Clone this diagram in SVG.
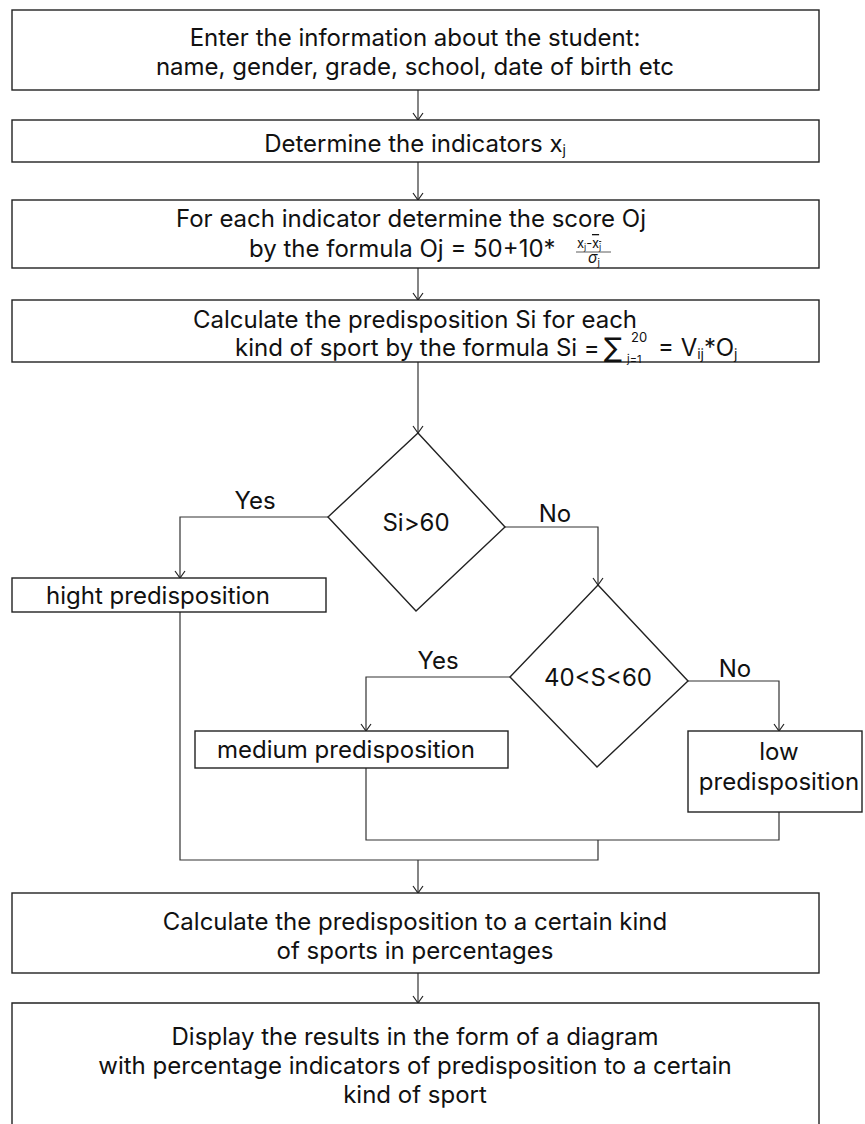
<svg xmlns="http://www.w3.org/2000/svg" width="865" height="1124" viewBox="0 0 865 1124">
<defs>
<marker id="arr" markerWidth="12" markerHeight="12" refX="10" refY="6" orient="auto" markerUnits="userSpaceOnUse" viewBox="0 0 12 12">
<path d="M3,1 L10,6 L3,11" fill="none" stroke="#222" stroke-width="1.2"/>
</marker>
<style>
.box{fill:#fff;stroke:#222;stroke-width:1.4}
.ln{fill:none;stroke:#333;stroke-width:1.2}
.t{font-family:Inter,"Liberation Sans",sans-serif;font-size:24px;fill:#111;text-anchor:middle}
.st{text-anchor:start}
</style>
</defs>
<rect width="865" height="1124" fill="#fff"/>
<g id="connectors">
<path class="ln" d="M418,90 V120" marker-end="url(#arr)"/>
<path class="ln" d="M418,162 V200" marker-end="url(#arr)"/>
<path class="ln" d="M418,268 V300" marker-end="url(#arr)"/>
<path class="ln" d="M418,362 V433" marker-end="url(#arr)"/>
<path class="ln" d="M328,517 H180 V578" marker-end="url(#arr)"/>
<path class="ln" d="M505,527 H598 V585" marker-end="url(#arr)"/>
<path class="ln" d="M510,677 H366 V731" marker-end="url(#arr)"/>
<path class="ln" d="M688,681 H779 V731" marker-end="url(#arr)"/>
<path class="ln" d="M366,768 V840 H779 V812"/>
<path class="ln" d="M598,840 V860 H180 V612"/>
<path class="ln" d="M418,860 V893" marker-end="url(#arr)"/>
<path class="ln" d="M418,973 V1003" marker-end="url(#arr)"/>
<text class="t" x="255" y="509">Yes</text>
<text class="t" x="555" y="522">No</text>
<text class="t" x="438" y="669">Yes</text>
<text class="t" x="735" y="677">No</text>
</g>
<g id="n1">
<rect class="box" x="12" y="10" width="807" height="80"/>
<text class="t" x="415" y="46">Enter the information about the student:</text>
<text class="t" x="415" y="75">name, gender, grade, school, date of birth etc</text>
</g>
<g id="n2">
<rect class="box" x="12" y="120" width="807" height="42"/>
<text class="t" x="415" y="152">Determine the indicators x<tspan font-size="14" dy="3">j</tspan></text>
</g>
<g id="n3">
<rect class="box" x="12" y="200" width="807" height="68"/>
<text class="t" x="411" y="227">For each indicator determine the score Oj</text>
<text class="t st" x="249" y="257">by the formula Oj = 50+10*<tspan x="577" y="248" font-size="13">x<tspan font-size="9" dy="2">j</tspan><tspan dy="-2">-</tspan><tspan text-decoration="overline">x<tspan font-size="9" dy="2">j</tspan></tspan></tspan><tspan x="588" y="263" font-size="15" font-style="italic">σ<tspan font-size="10" dy="3" font-style="normal">j</tspan></tspan></text>
<line x1="576" y1="252" x2="611" y2="252" stroke="#333" stroke-width="0.8"/>
</g>
<g id="n4">
<rect class="box" x="12" y="300" width="807" height="62"/>
<text class="t" x="415" y="328">Calculate the predisposition Si for each</text>
<text class="t st" x="235" y="356">kind of sport by the formula Si = <tspan x="604" y="357" font-family="'DejaVu Sans',sans-serif" font-size="27">∑</tspan><tspan x="631" y="342" font-size="13">20</tspan><tspan x="627" y="363" font-size="11">j=1</tspan><tspan x="658" y="356">= V</tspan><tspan font-size="14" dy="3">ij</tspan><tspan dy="-3">*O</tspan><tspan font-size="14" dy="3">j</tspan></text>
</g>
<g id="d1">
<polygon class="box" points="418,433 505,527 416,611 328,517"/>
<text class="t" x="416" y="531">Si&gt;60</text>
</g>
<g id="n5">
<rect class="box" x="12" y="578" width="314" height="34"/>
<text class="t" x="158" y="604">hight predisposition</text>
</g>
<g id="d2">
<polygon class="box" points="598,585 688,681 597,767 510,677"/>
<text class="t" x="598" y="686">40&lt;S&lt;60</text>
</g>
<g id="n6">
<rect class="box" x="195" y="731" width="313" height="37"/>
<text class="t" x="346" y="758">medium predisposition</text>
</g>
<g id="n7">
<rect class="box" x="688" y="731" width="174" height="81"/>
<text class="t" x="779" y="760">low</text>
<text class="t" x="779" y="790">predisposition</text>
</g>
<g id="n8">
<rect class="box" x="12" y="893" width="807" height="80"/>
<text class="t" x="415" y="930">Calculate the predisposition to a certain kind</text>
<text class="t" x="415" y="959">of sports in percentages</text>
</g>
<g id="n9">
<path class="box" d="M12,1130 V1003 H819 V1130"/>
<text class="t" x="415" y="1045">Display the results in the form of a diagram</text>
<text class="t" x="415" y="1074">with percentage indicators of predisposition to a certain</text>
<text class="t" x="415" y="1103">kind of sport</text>
</g>
</svg>
